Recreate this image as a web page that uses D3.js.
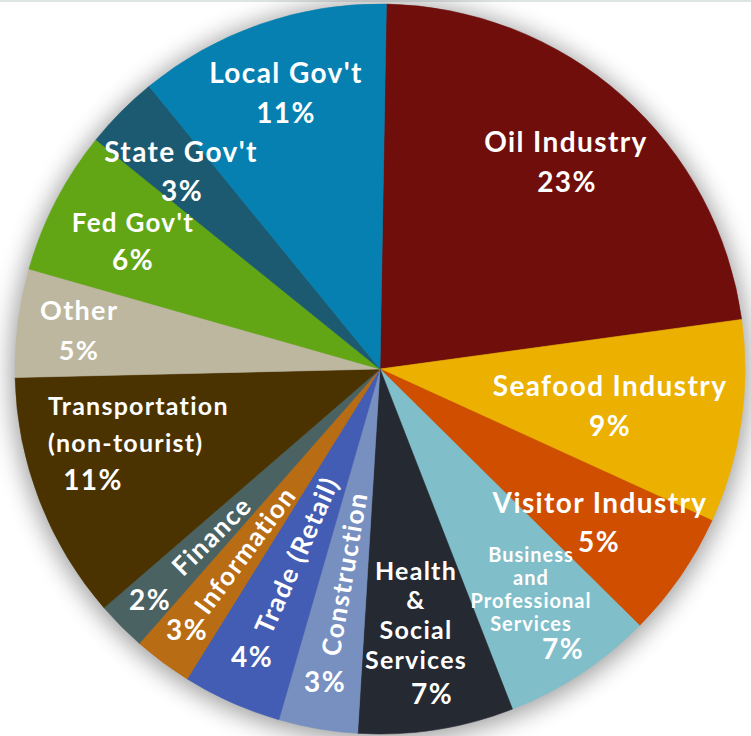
<!DOCTYPE html>
<html>
<head>
<meta charset="utf-8">
<script src="https://cdn.jsdelivr.net/npm/d3@7"></script>
<style>
  body { margin: 0; background: #fff; }
  svg text { font-family: Lato, "Open Sans", sans-serif; font-weight: 700; fill: #fff; letter-spacing: 0.05em; }
</style>
</head>
<body>
<div class="pie"></div>
<script>
var svgWidth = 751;
var svgHeight = 736;

// slices, clockwise from the top
var sectors = ["Oil Industry", "Seafood Industry", "Visitor Industry", "Business and Professional Services",
  "Health & Social Services", "Construction", "Trade (Retail)", "Information", "Finance",
  "Transportation (non-tourist)", "Other", "Fed Gov't", "State Gov't", "Local Gov't"];
// share of the circle
var shares = [22.6, 9.0, 5.6, 6.7, 6.9, 3.5, 4.4, 2.6, 2.2, 11.0, 4.8, 6.4, 3.3, 11.2];
// percentages as printed on the chart
var pctLabels = ["23%", "9%", "5%", "7%", "7%", "3%", "4%", "3%", "2%", "11%", "5%", "6%", "3%", "11%"];
var colors = ["#6f0e0b", "#ebb000", "#cf4e00", "#80bec9", "#252932", "#7890c0", "#435cb4",
  "#b86c14", "#4a6262", "#4a3300", "#bdb7a0", "#62a616", "#1b5a70", "#0680b0"];

var cx = 380, cy = 369, radius = 365;

var svg = d3.select(".pie")
  .append("svg")
  .attr("width", svgWidth)
  .attr("height", svgHeight);

var defs = svg.append("defs");
var shadow = defs.append("filter")
  .attr("id", "shadow")
  .attr("x", "-20%").attr("y", "-20%")
  .attr("width", "140%").attr("height", "140%");
shadow.append("feGaussianBlur").attr("stdDeviation", 12);

// thin grey rule on the top edge
svg.append("rect")
  .attr("x", 0).attr("y", 0)
  .attr("width", svgWidth).attr("height", 2)
  .attr("fill", "#dfe4e4");

var pieGroup = svg.append("g")
  .attr("transform", `translate(${cx}, ${cy})`);

pieGroup.append("circle")
  .attr("cx", 0).attr("cy", 3)
  .attr("r", radius + 4)
  .attr("fill", "#000")
  .attr("opacity", 0.38)
  .attr("filter", "url(#shadow)");

var pie = d3.pie()
  .sort(null)
  .value(d => d)
  .startAngle(1 * Math.PI / 180)
  .endAngle(361 * Math.PI / 180);

var arc = d3.arc()
  .innerRadius(0)
  .outerRadius(radius);

var arcs = pie(shares);

pieGroup.selectAll("path.slice")
  .data(arcs)
  .enter()
  .append("path")
  .attr("class", "slice")
  .attr("d", arc)
  .attr("fill", (d, i) => colors[i])
  .attr("stroke", (d, i) => colors[i])
  .attr("stroke-width", 0.6);

// horizontal labels: lines of text placed relative to the centre
var labelLayout = {
  "Local Gov't": { size: 28, lines: [["Local Gov't", -94, -286], [13, -94, -246]] },
  "Oil Industry": { size: 28, lines: [["Oil Industry", 186, -217], [0, 187, -177]] },
  "Seafood Industry": { size: 28, lines: [["Seafood Industry", 230, 27], [1, 230, 67]] },
  "Visitor Industry": { size: 28, lines: [["Visitor Industry", 220, 144], [2, 219, 183]] },
  "Business and Professional Services": { size: 20, lines: [["Business", 151, 193], ["and", 151, 216],
    ["Professional", 151, 239], ["Services", 151, 262], [3, 183, 290, 28]] },
  "Health & Social Services": { size: 25, lines: [["Health", 36, 211], ["&", 36, 240], ["Social", 36, 270],
    ["Services", 36, 300], [4, 52, 335, 28]] },
  "Other": { size: 27, lines: [["Other", -340, -49, 27, "start"], [10, -301, -9]] },
  "Transportation (non-tourist)": { size: 25, lines: [["Transportation", -332, 46, 25, "start"],
    ["(non-tourist)", -332, 83, 25, "start"], [9, -287, 121, 28]] },
  "Fed Gov't": { size: 26, lines: [["Fed Gov't", -247, -137], [11, -247, -99, 28]] },
  "State Gov't": { size: 28, lines: [["State Gov't", -199, -207], [12, -198, -168, 28]] },
  "Finance": { size: 28, lines: [[8, -230, 241]] },
  "Information": { size: 28, lines: [[7, -193, 271]] },
  "Trade (Retail)": { size: 28, lines: [[6, -128, 298]] },
  "Construction": { size: 28, lines: [[5, -55, 323]] }
};

// names written along the slice, reading towards the centre
var radialLabels = {
  "Finance": { r: 237, size: 26 },
  "Information": { r: 226, size: 26 },
  "Trade (Retail)": { r: 204, size: 26 },
  "Construction": { r: 208, size: 26 }
};

var labelsGroup = pieGroup.append("g");

sectors.forEach(function(name) {
  var layout = labelLayout[name];
  layout.lines.forEach(function(line) {
    // a number stands for the printed percentage of that slice
    var txt = typeof line[0] === "number" ? pctLabels[line[0]] : line[0];
    labelsGroup.append("text")
      .attr("x", line[1])
      .attr("y", line[2])
      .attr("text-anchor", line[4] || "middle")
      .style("font-size", (line[3] || layout.size) + "px")
      .text(txt);
  });
});

arcs.forEach(function(d, i) {
  var rl = radialLabels[sectors[i]];
  if (!rl) return;
  var mid = (d.startAngle + d.endAngle) / 2;
  var x = Math.sin(mid) * rl.r;
  var y = -Math.cos(mid) * rl.r;
  var rot = mid * 180 / Math.PI - 270;
  labelsGroup.append("text")
    .attr("transform", `translate(${x}, ${y}) rotate(${rot})`)
    .attr("text-anchor", "middle")
    .attr("dy", "0.35em")
    .style("font-size", rl.size + "px")
    .text(sectors[i]);
});
</script>
</body>
</html>
